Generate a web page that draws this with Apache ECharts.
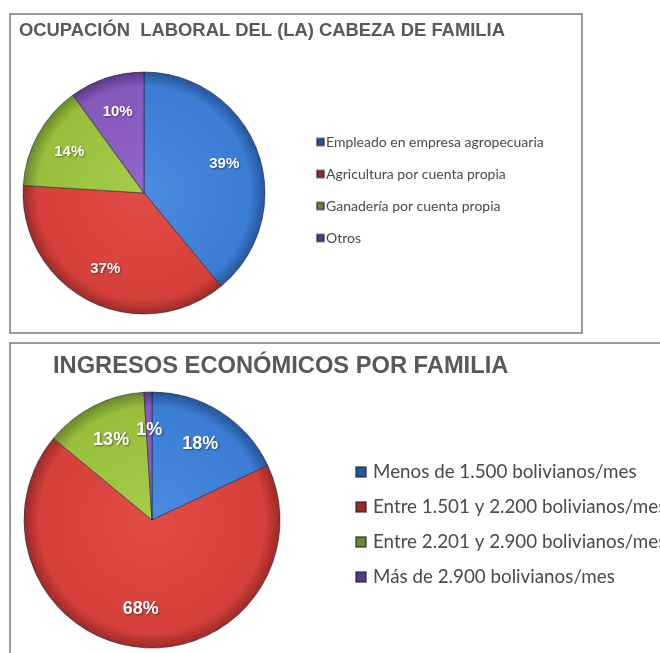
<!DOCTYPE html>
<html>
<head>
    <meta charset="utf-8">
    <script src="https://cdn.jsdelivr.net/npm/echarts@6/dist/echarts.min.js"></script>
    <title>Ocupación e ingresos</title>
    <style>
        body { margin: 0; background: #fff; }
        #main { width: 660px; height: 653px; }
    </style>
</head>
<body>
    <div id="main"></div>
    <script type="text/javascript">
        // chart 1: ocupación laboral
        var ocupacionNames = ['Empleado en empresa agropecuaria', 'Agricultura por cuenta propia', 'Ganadería por cuenta propia', 'Otros'];
        var ocupacionValues = [39, 37, 14, 10];

        // chart 2: ingresos
        var ingresoNames = ['Menos de 1.500 bolivianos/mes', 'Entre 1.501 y 2.200 bolivianos/mes', 'Entre 2.201 y 2.900 bolivianos/mes', 'Más de 2.900 bolivianos/mes'];
        var ingresoValues = [18, 68, 13, 1];

        // blue, red, green, purple  [light, base, dark]
        var palette = [
            ['#4a8ce0', '#3b7dd4', '#26569a'],
            ['#e24c47', '#d6403b', '#9c2a27'],
            ['#a6cc48', '#97bf3c', '#68892a'],
            ['#9465c8', '#8558bb', '#5a3988']
        ];

        var myChart = echarts.init(document.getElementById('main'));

        function sliceColor(i, cx, cy, r) {
            return {
                type: 'radial', x: cx, y: cy, r: r, global: true,
                colorStops: [
                    { offset: 0, color: palette[i][0] },
                    { offset: 0.88, color: palette[i][1] },
                    { offset: 1, color: palette[i][2] }
                ]
            };
        }

        function buildData(names, values, cx, cy, r) {
            return names.map(function (n, i) {
                return { name: n, value: values[i], itemStyle: { color: sliceColor(i, cx, cy, r) } };
            });
        }

        function labelData(names, values) {
            return names.map(function (n, i) {
                return { name: n, value: values[i] };
            });
        }

        var pie1 = { cx: 144, cy: 193, r: 121 };
        var pie2 = { cx: 152, cy: 520, r: 128 };

        function piePair(pie, names, values, fontSize) {
            return [{
                type: 'pie',
                center: [pie.cx, pie.cy],
                radius: pie.r,
                startAngle: 90,
                clockwise: true,
                animation: false,
                label: { show: false },
                labelLine: { show: false },
                emphasis: { disabled: true },
                itemStyle: { borderColor: 'rgba(30,30,50,0.55)', borderWidth: 1 },
                data: buildData(names, values, pie.cx, pie.cy, pie.r)
            }, {
                // transparent ring, only used to place the percentage labels further out
                type: 'pie',
                center: [pie.cx, pie.cy],
                radius: [pie.r * 0.36, pie.r],
                startAngle: 90,
                clockwise: true,
                animation: false,
                silent: true,
                legendHoverLink: false,
                emphasis: { disabled: true },
                itemStyle: { color: 'rgba(0,0,0,0)' },
                label: {
                    show: true,
                    position: 'inside',
                    formatter: '{c}%',
                    color: '#fff',
                    fontFamily: 'Liberation Sans, Arial, sans-serif',
                    fontWeight: 'bold',
                    fontSize: fontSize,
                    textShadowColor: 'rgba(0,0,0,0.45)',
                    textShadowBlur: 2,
                    textShadowOffsetX: 1,
                    textShadowOffsetY: 1
                },
                labelLine: { show: false },
                data: labelData(names, values)
            }];
        }

        var option = {
            backgroundColor: '#fff',
            animation: false,
            title: [{
                text: 'OCUPACIÓN  LABORAL DEL (LA) CABEZA DE FAMILIA',
                left: 19, top: 22, padding: 0,
                textStyle: { fontFamily: 'Liberation Sans, Arial, sans-serif', fontWeight: 'bold', fontSize: 18.4, color: '#595959' }
            }, {
                text: 'INGRESOS ECONÓMICOS POR FAMILIA',
                left: 53, top: 354, padding: 0,
                textStyle: { fontFamily: 'Liberation Sans, Arial, sans-serif', fontWeight: 'bold', fontSize: 23.7, color: '#595959' }
            }],
            legend: [{
                data: ocupacionNames,
                orient: 'vertical',
                left: 316, top: 134, padding: 0,
                icon: 'rect', itemWidth: 7, itemHeight: 7,
                itemGap: 16,
                selectedMode: false,
                textStyle: { fontFamily: 'Lato, sans-serif', fontSize: 14, lineHeight: 16, color: '#4a4a4a', padding: [0, 0, 0, -3] }
            }, {
                data: ingresoNames,
                orient: 'vertical',
                left: 355, top: 462, padding: 0,
                icon: 'rect', itemWidth: 10, itemHeight: 10,
                itemGap: 15,
                selectedMode: false,
                textStyle: { fontFamily: 'Lato, sans-serif', fontSize: 18.8, lineHeight: 20, color: '#4a4a4a', padding: [0, 0, 0, 2] }
            }],
            graphic: [{
                type: 'rect', silent: true,
                shape: { x: 10, y: 14, width: 572, height: 319 },
                style: { fill: null, stroke: '#7a7a7a', lineWidth: 1.5 }
            }, {
                type: 'rect', silent: true,
                shape: { x: 10, y: 343, width: 680, height: 340 },
                style: { fill: null, stroke: '#7a7a7a', lineWidth: 1.5 }
            }],
            series: piePair(pie1, ocupacionNames, ocupacionValues, 15)
                .concat(piePair(pie2, ingresoNames, ingresoValues, 18))
        };

        myChart.setOption(option);
    </script>
</body>
</html>
